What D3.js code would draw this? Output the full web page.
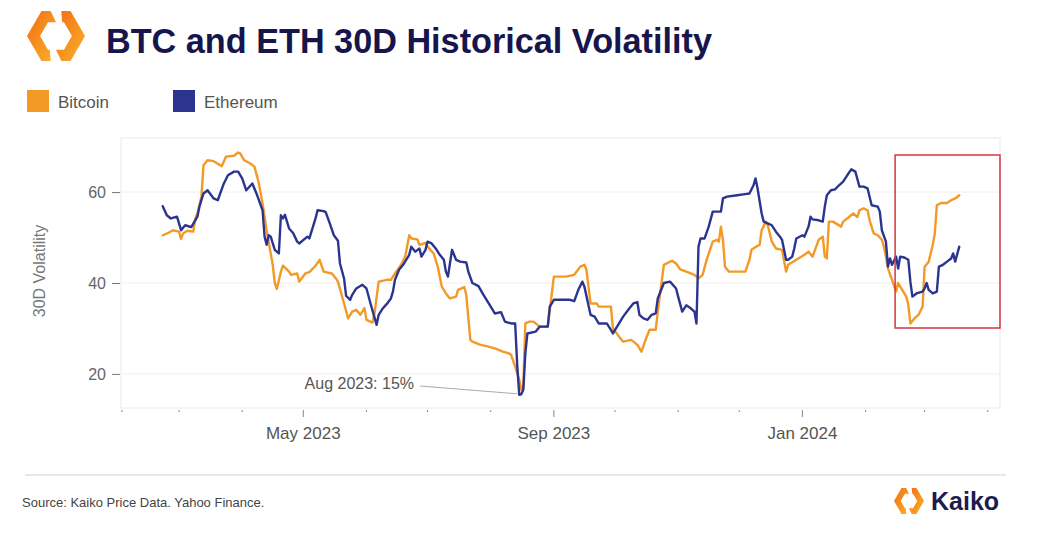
<!DOCTYPE html>
<html>
<head>
<meta charset="utf-8">
<script src="https://cdn.jsdelivr.net/npm/d3@7"></script>
<style>
  body { margin: 0; background: #fff; }
  svg { display: block; font-family: "Liberation Sans", Arial, sans-serif; }
</style>
</head>
<body>
<svg id="chart" width="1042" height="540"></svg>
<script>
// 30D historical volatility
const btcSeries = [
  ["2023-02-21", 50.5], ["2023-02-24", 51.1], ["2023-02-26", 51.6], ["2023-03-01", 51.3], ["2023-03-02", 49.7],
  ["2023-03-03", 50.9], ["2023-03-05", 51.5], ["2023-03-08", 51.3], ["2023-03-09", 54.2], ["2023-03-10", 55.3],
  ["2023-03-12", 59], ["2023-03-13", 65.9], ["2023-03-15", 67], ["2023-03-18", 66.8], ["2023-03-22", 65.7],
  ["2023-03-24", 67.8], ["2023-03-28", 68], ["2023-03-30", 68.7], ["2023-03-31", 68.5], ["2023-04-02", 67],
  ["2023-04-05", 66.3], ["2023-04-07", 65.6], ["2023-04-09", 62.3], ["2023-04-11", 57.5], ["2023-04-13", 51.6],
  ["2023-04-14", 49], ["2023-04-16", 44], ["2023-04-17", 40], ["2023-04-18", 38.7], ["2023-04-20", 42.5],
  ["2023-04-21", 43.8], ["2023-04-24", 42.5], ["2023-04-25", 41.8], ["2023-04-28", 42.1], ["2023-04-29", 40.3],
  ["2023-05-02", 42.1], ["2023-05-04", 42.4], ["2023-05-07", 43.8], ["2023-05-09", 45.1], ["2023-05-11", 42.5],
  ["2023-05-15", 42.1], ["2023-05-17", 41], ["2023-05-18", 40.3], ["2023-05-21", 35.5], ["2023-05-23", 32.2],
  ["2023-05-25", 33.7], ["2023-05-27", 34.1], ["2023-05-29", 33], ["2023-05-31", 34.5], ["2023-06-01", 31.9],
  ["2023-06-04", 31.3], ["2023-06-05", 33.5], ["2023-06-07", 40.3], ["2023-06-11", 40.7], ["2023-06-13", 40.7],
  ["2023-06-15", 42.1], ["2023-06-18", 44], ["2023-06-20", 45.8], ["2023-06-22", 50.5], ["2023-06-23", 49.8],
  ["2023-06-26", 49.6], ["2023-06-27", 48.4], ["2023-06-30", 48.8], ["2023-07-01", 48], ["2023-07-04", 46.5],
  ["2023-07-06", 43.6], ["2023-07-08", 39.2], ["2023-07-10", 37.7], ["2023-07-12", 36.6], ["2023-07-15", 37],
  ["2023-07-16", 38.5], ["2023-07-19", 39.1], ["2023-07-20", 37.4], ["2023-07-22", 27.5], ["2023-07-23", 27.1],
  ["2023-07-27", 26.4], ["2023-07-30", 26.1], ["2023-08-03", 25.6], ["2023-08-07", 24.9], ["2023-08-10", 24.5],
  ["2023-08-11", 24.2], ["2023-08-13", 21.6], ["2023-08-15", 18.7], ["2023-08-16", 16.5], ["2023-08-17", 17.2],
  ["2023-08-18", 31.1], ["2023-08-20", 31.5], ["2023-08-22", 31.5], ["2023-08-25", 30.4], ["2023-08-29", 30.4],
  ["2023-08-31", 37.7], ["2023-09-01", 41.4], ["2023-09-07", 41.4], ["2023-09-11", 41.8], ["2023-09-14", 43.6],
  ["2023-09-16", 44], ["2023-09-17", 42.9], ["2023-09-19", 35.5], ["2023-09-22", 35.5], ["2023-09-23", 34.8],
  ["2023-09-29", 34.8], ["2023-09-30", 30], ["2023-10-03", 28.2], ["2023-10-05", 27.1], ["2023-10-09", 27.5],
  ["2023-10-12", 26.4], ["2023-10-14", 24.9], ["2023-10-16", 27.5], ["2023-10-18", 29.7], ["2023-10-21", 29.7],
  ["2023-10-22", 33.7], ["2023-10-25", 44], ["2023-10-29", 44.9], ["2023-10-31", 44.3], ["2023-11-02", 43],
  ["2023-11-05", 42.5], ["2023-11-09", 41.8], ["2023-11-11", 41], ["2023-11-13", 41.8], ["2023-11-15", 45.1],
  ["2023-11-18", 49.1], ["2023-11-20", 49.5], ["2023-11-21", 49.1], ["2023-11-22", 52.4], ["2023-11-23", 49.5],
  ["2023-11-24", 43.6], ["2023-11-26", 42.5], ["2023-12-04", 42.5], ["2023-12-06", 45.1], ["2023-12-07", 47.3],
  ["2023-12-09", 47.9], ["2023-12-11", 48.4], ["2023-12-12", 51.6], ["2023-12-14", 53.5], ["2023-12-15", 52.7],
  ["2023-12-17", 49.1], ["2023-12-19", 47.6], ["2023-12-22", 47.3], ["2023-12-24", 42.5], ["2023-12-25", 44],
  ["2023-12-29", 45.1], ["2024-01-02", 46.2], ["2024-01-04", 46.9], ["2024-01-06", 45.8], ["2024-01-09", 49.5],
  ["2024-01-11", 50.2], ["2024-01-12", 45.8], ["2024-01-13", 45.4], ["2024-01-14", 53.5], ["2024-01-16", 53.5],
  ["2024-01-20", 52.4], ["2024-01-21", 53.5], ["2024-01-23", 54.2], ["2024-01-26", 55.3], ["2024-01-28", 54.5],
  ["2024-01-29", 56], ["2024-01-31", 56.4], ["2024-02-02", 56], ["2024-02-03", 53.8], ["2024-02-05", 50.9],
  ["2024-02-07", 50.5], ["2024-02-09", 49.5], ["2024-02-10", 48], ["2024-02-11", 45.8], ["2024-02-12", 43.2],
  ["2024-02-14", 40.7], ["2024-02-16", 38.1], ["2024-02-17", 40], ["2024-02-19", 38.5], ["2024-02-21", 37],
  ["2024-02-22", 35.2], ["2024-02-23", 31.1], ["2024-02-25", 32.2], ["2024-02-27", 33], ["2024-02-29", 34.8],
  ["2024-03-01", 43.6], ["2024-03-03", 44.7], ["2024-03-05", 48.4], ["2024-03-06", 50.9], ["2024-03-07", 57.1],
  ["2024-03-09", 57.6], ["2024-03-12", 57.6], ["2024-03-14", 58.2], ["2024-03-16", 58.6], ["2024-03-18", 59.3]
]

const ethSeries = [
  ["2023-02-21", 56.9], ["2023-02-23", 54.9], ["2023-02-25", 54.2], ["2023-02-28", 54.6], ["2023-03-02", 51.6],
  ["2023-03-04", 52.7], ["2023-03-07", 52.3], ["2023-03-10", 54.6], ["2023-03-11", 56.8], ["2023-03-13", 59.7],
  ["2023-03-15", 60.4], ["2023-03-18", 58.6], ["2023-03-20", 58.2], ["2023-03-23", 61.9], ["2023-03-25", 63.7],
  ["2023-03-28", 64.5], ["2023-03-30", 64.5], ["2023-04-01", 63], ["2023-04-03", 60.4], ["2023-04-06", 61.9],
  ["2023-04-08", 59.7], ["2023-04-11", 56], ["2023-04-12", 50.2], ["2023-04-13", 48.4], ["2023-04-14", 50.5],
  ["2023-04-15", 50.2], ["2023-04-17", 47.3], ["2023-04-19", 46.5], ["2023-04-20", 54.9], ["2023-04-21", 54.2],
  ["2023-04-22", 55], ["2023-04-24", 52], ["2023-04-26", 51], ["2023-04-28", 49.1], ["2023-04-29", 48.7],
  ["2023-05-03", 50.2], ["2023-05-04", 49.8], ["2023-05-05", 51.3], ["2023-05-07", 54.2], ["2023-05-08", 56],
  ["2023-05-11", 55.8], ["2023-05-12", 55.6], ["2023-05-14", 53.1], ["2023-05-16", 50.5], ["2023-05-18", 49.3],
  ["2023-05-19", 44.3], ["2023-05-21", 41], ["2023-05-22", 37.2], ["2023-05-24", 36.3], ["2023-05-25", 37.4],
  ["2023-05-27", 38.8], ["2023-05-30", 39.6], ["2023-06-01", 38.8], ["2023-06-03", 35.5], ["2023-06-04", 33.9],
  ["2023-06-06", 30.8], ["2023-06-07", 33], ["2023-06-09", 34.4], ["2023-06-11", 35.4], ["2023-06-13", 36.6],
  ["2023-06-14", 38.1], ["2023-06-15", 40.7], ["2023-06-17", 42.9], ["2023-06-19", 44], ["2023-06-22", 46.2],
  ["2023-06-23", 48], ["2023-06-25", 46.9], ["2023-06-27", 47.6], ["2023-06-28", 45.8], ["2023-06-30", 47.3],
  ["2023-07-01", 49.1], ["2023-07-03", 48.7], ["2023-07-05", 47.6], ["2023-07-07", 46.2], ["2023-07-09", 45.1],
  ["2023-07-10", 42.5], ["2023-07-11", 41.4], ["2023-07-13", 47.3], ["2023-07-15", 45.1], ["2023-07-17", 44.7],
  ["2023-07-20", 44.5], ["2023-07-21", 42.5], ["2023-07-23", 40], ["2023-07-26", 39.3], ["2023-07-28", 37.7],
  ["2023-08-01", 34.8], ["2023-08-03", 33.3], ["2023-08-06", 33.6], ["2023-08-08", 31.5], ["2023-08-11", 31.1],
  ["2023-08-13", 31.1], ["2023-08-14", 22], ["2023-08-15", 15.4], ["2023-08-16", 15.5], ["2023-08-17", 16.5],
  ["2023-08-18", 24.5], ["2023-08-19", 28.9], ["2023-08-23", 29.3], ["2023-08-25", 30.4], ["2023-08-29", 30.4],
  ["2023-08-30", 34.8], ["2023-09-01", 36.3], ["2023-09-09", 36.3], ["2023-09-11", 36], ["2023-09-13", 38.5],
  ["2023-09-15", 40.3], ["2023-09-16", 39.2], ["2023-09-19", 33], ["2023-09-21", 32.6], ["2023-09-23", 31.1],
  ["2023-09-27", 31.1], ["2023-09-29", 29.7], ["2023-09-30", 28.9], ["2023-10-03", 31.1], ["2023-10-05", 32.6],
  ["2023-10-08", 34.4], ["2023-10-10", 35.5], ["2023-10-12", 35.8], ["2023-10-13", 33], ["2023-10-15", 32.2],
  ["2023-10-17", 31.9], ["2023-10-19", 33], ["2023-10-21", 33.3], ["2023-10-22", 36.6], ["2023-10-25", 40],
  ["2023-10-28", 40.3], ["2023-10-31", 38.8], ["2023-11-01", 37], ["2023-11-03", 33.7], ["2023-11-05", 35.1],
  ["2023-11-07", 34.5], ["2023-11-09", 33.7], ["2023-11-10", 31.1], ["2023-11-11", 48], ["2023-11-12", 49.8],
  ["2023-11-14", 49.8], ["2023-11-16", 52.4], ["2023-11-18", 55.7], ["2023-11-22", 55.7], ["2023-11-23", 58.6],
  ["2023-11-25", 59], ["2023-11-30", 59.3], ["2023-12-03", 59.5], ["2023-12-06", 59.7], ["2023-12-08", 61.5],
  ["2023-12-09", 63], ["2023-12-10", 60.8], ["2023-12-12", 55.3], ["2023-12-13", 53.5], ["2023-12-15", 53.1],
  ["2023-12-17", 52.7], ["2023-12-19", 51.3], ["2023-12-21", 50.2], ["2023-12-22", 49.5], ["2023-12-24", 45.1],
  ["2023-12-25", 45.1], ["2023-12-27", 45.8], ["2023-12-28", 47.6], ["2023-12-29", 49.8], ["2024-01-01", 50.5],
  ["2024-01-02", 50.2], ["2024-01-04", 52.4], ["2024-01-05", 54.6], ["2024-01-06", 54], ["2024-01-09", 53.8],
  ["2024-01-11", 53.5], ["2024-01-12", 56.8], ["2024-01-13", 59.3], ["2024-01-15", 60.4], ["2024-01-17", 60.6],
  ["2024-01-19", 61.5], ["2024-01-21", 62.3], ["2024-01-23", 63.7], ["2024-01-25", 65], ["2024-01-27", 64.5],
  ["2024-01-29", 61.2], ["2024-01-31", 61.2], ["2024-02-02", 60.8], ["2024-02-04", 57.1], ["2024-02-07", 56.8],
  ["2024-02-08", 55.7], ["2024-02-09", 51.6], ["2024-02-11", 49.1], ["2024-02-12", 43.6], ["2024-02-13", 45.4],
  ["2024-02-14", 44], ["2024-02-16", 45.8], ["2024-02-17", 43.2], ["2024-02-18", 45.8], ["2024-02-20", 45.6],
  ["2024-02-22", 45.1], ["2024-02-23", 40.3], ["2024-02-24", 37], ["2024-02-26", 37.7], ["2024-02-29", 38.1],
  ["2024-03-01", 38.8], ["2024-03-02", 40], ["2024-03-03", 38.5], ["2024-03-05", 37.7], ["2024-03-07", 38.1],
  ["2024-03-08", 43.6], ["2024-03-10", 44], ["2024-03-12", 44.7], ["2024-03-14", 45.4], ["2024-03-15", 46.5],
  ["2024-03-16", 44.7], ["2024-03-18", 48]
]

const seriesNames = ["Bitcoin", "Ethereum"]
const seriesColors = ["#f39a26", "#2b3590"]
const yTicks = [20, 40, 60]
const majorTickLabels = ["May 2023", "Sep 2023", "Jan 2024"]
const highlightStart = "2024-02-16"
const lowNote = { date: "2023-08-15", value: 15.4, label: "Aug 2023: 15%" }

const parse = d3.timeParse("%Y-%m-%d")
const btc = btcSeries.map(([d, v]) => ({ date: parse(d), v }))
const eth = ethSeries.map(([d, v]) => ({ date: parse(d), v }))

const svg = d3.select("#chart")

const x = d3.scaleTime().domain([parse("2023-02-01"), parse("2024-04-07")]).range([122, 1000])
const y = d3.scaleLinear().domain([12.5, 71.9]).range([408, 138])

// ---- header: logo, title, legend
const grad = svg.append("defs").append("linearGradient").attr("id", "logoGrad")
  .attr("x1", "0").attr("y1", "0").attr("x2", "1").attr("y2", "1")
grad.append("stop").attr("offset", "0%").attr("stop-color", "#f26a1b")
grad.append("stop").attr("offset", "55%").attr("stop-color", "#f7941d")
grad.append("stop").attr("offset", "100%").attr("stop-color", "#fbb034")

function hexPoint(cx, cy, r, a) {
  // distance to the edge of a hexagon with vertices at 0, 60, 120 ... degrees
  const deg = ((a % 60) + 60) % 60 - 30
  const rr = r * Math.cos(Math.PI / 6) / Math.cos(deg * Math.PI / 180)
  return [cx + rr * Math.cos(a * Math.PI / 180), cy - rr * Math.sin(a * Math.PI / 180)]
}

function logoPiece(cx, cy, R, r, a0, a1) {
  const pts = []
  const step = 2
  for (let a = a0; a <= a1; a += step) pts.push(hexPoint(cx, cy, R, a))
  for (let a = a1 - 12; a >= a0 - 12; a -= step) pts.push(hexPoint(cx, cy, r, a))
  return "M" + pts.map((p) => p.join(",")).join("L") + "Z"
}

function drawLogo(g, cx, cy, R) {
  const r = R * 0.55
  g.append("path").attr("d", logoPiece(cx, cy, R, r, 102, 258)).attr("fill", "url(#logoGrad)")
  g.append("path").attr("d", logoPiece(cx, cy, R, r, 282, 438)).attr("fill", "url(#logoGrad)")
}

drawLogo(svg.append("g"), 56, 36, 29)

const title = svg.append("text")
  .attr("x", 106).attr("y", 53)
  .attr("font-size", 32).attr("font-weight", "bold")
  .attr("fill", "#16164d")
  .text("BTC and ETH 30D Historical Volatility")
const tw = title.node().getComputedTextLength()
title.attr("font-size", 32 * 606 / tw)

const legend = svg.append("g").selectAll("g").data(seriesNames).join("g")
  .attr("transform", (d, i) => `translate(${27 + i * 146}, 90)`)
legend.append("rect").attr("width", 22).attr("height", 22).attr("fill", (d, i) => seriesColors[i])
legend.append("text").attr("x", 31).attr("y", 18).attr("font-size", 17).attr("fill", "#555").text((d) => d)

// ---- plot frame and grid
svg.append("rect")
  .attr("x", x.range()[0] - 1).attr("y", y.range()[1])
  .attr("width", x.range()[1] - x.range()[0] + 1).attr("height", y.range()[0] - y.range()[1])
  .attr("fill", "none").attr("stroke", "#e9e9e9").attr("stroke-width", 1)

svg.append("g").selectAll("line").data(yTicks).join("line")
  .attr("x1", x.range()[0]).attr("x2", x.range()[1])
  .attr("y1", (d) => y(d)).attr("y2", (d) => y(d))
  .attr("stroke", "#efefef").attr("stroke-width", 1)

// y axis
const yAxis = svg.append("g")
  .attr("transform", `translate(${x.range()[0] - 2},0)`)
  .call(d3.axisLeft(y).tickValues(yTicks).tickSize(8).tickPadding(6))
yAxis.select(".domain").remove()
yAxis.selectAll(".tick line").attr("stroke", "#777")
yAxis.selectAll(".tick text").attr("font-size", 16).attr("fill", "#666").attr("font-family", "Liberation Sans, Arial, sans-serif")

svg.append("text")
  .attr("transform", `translate(45, ${(y.range()[0] + y.range()[1]) / 2 - 2}) rotate(-90)`)
  .attr("text-anchor", "middle").attr("font-size", 16).attr("fill", "#777")
  .text("30D Volatility")

// x axis: monthly minor ticks, labelled every four months
const months = d3.timeMonth.range(parse("2023-02-01"), parse("2024-04-07"))
const fmt = d3.timeFormat("%b %Y")
const isMajor = (d) => majorTickLabels.includes(fmt(d))

svg.append("g").selectAll("line").data(months).join("line")
  .attr("x1", (d) => x(d)).attr("x2", (d) => x(d))
  .attr("y1", y.range()[0] + 2).attr("y2", (d) => y.range()[0] + (isMajor(d) ? 9 : 4))
  .attr("stroke", "#888").attr("stroke-width", 1)

svg.append("g").selectAll("text").data(months.filter(isMajor)).join("text")
  .attr("x", (d) => x(d)).attr("y", 439)
  .attr("text-anchor", "middle").attr("font-size", 17).attr("fill", "#555")
  .text((d) => fmt(d))

// ---- lines
const line = d3.line().x((d) => x(d.date)).y((d) => y(d.v))
const lines = svg.append("g").attr("fill", "none").attr("stroke-width", 2.4)
  .attr("stroke-linejoin", "round").attr("stroke-linecap", "round")
lines.append("path").datum(btc).attr("d", line).attr("stroke", seriesColors[0])
lines.append("path").datum(eth).attr("d", line).attr("stroke", seriesColors[1])

// annotation of the August low
const lowX = x(parse(lowNote.date))
const lowY = y(lowNote.value)
svg.append("line")
  .attr("x1", 420).attr("y1", 386).attr("x2", lowX - 2).attr("y2", lowY - 1)
  .attr("stroke", "#aaa").attr("stroke-width", 1)
svg.append("text")
  .attr("x", 414).attr("y", 389).attr("text-anchor", "end")
  .attr("font-size", 16).attr("fill", "#555")
  .text(lowNote.label)

// red highlight box over the latest weeks
const boxX = x(parse(highlightStart)) - 1
svg.append("rect")
  .attr("x", boxX).attr("y", 155)
  .attr("width", x.range()[1] - boxX).attr("height", 173)
  .attr("fill", "none").attr("stroke", "#d5363e").attr("stroke-width", 1.5)

// ---- footer
svg.append("line").attr("x1", 25).attr("x2", 1006).attr("y1", 475).attr("y2", 475)
  .attr("stroke", "#cfcfcf").attr("stroke-width", 1.2)
svg.append("text").attr("x", 22).attr("y", 507).attr("font-size", 13).attr("fill", "#444")
  .text("Source: Kaiko Price Data. Yahoo Finance.")

drawLogo(svg.append("g"), 909, 501, 15)
svg.append("text").attr("x", 931).attr("y", 510).attr("font-size", 25).attr("font-weight", "bold")
  .attr("fill", "#1c1c50").text("Kaiko")
</script>
</body>
</html>
